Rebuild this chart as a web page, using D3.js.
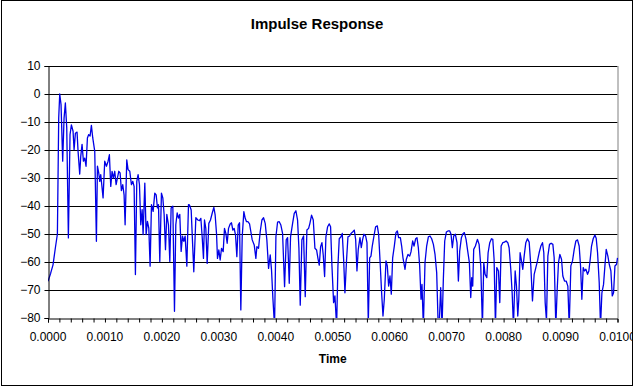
<!DOCTYPE html>
<html><head><meta charset="utf-8">
<script src="https://cdn.jsdelivr.net/npm/d3@7"></script>
<style>
html,body{margin:0;padding:0;background:#fff;}
svg{display:block;font-family:"Liberation Sans",Arial,sans-serif;}
</style></head>
<body><svg id="c" width="635" height="388"></svg>
<script>
// Time in milliseconds (converted to seconds below), response in dB
const timeMs = [
0.000,0.047,0.088,0.129,0.165,0.188,0.206,0.229,0.258,0.282,0.305,0.329,0.358,0.387,0.411,0.440,0.458,0.481,0.510,0.528,
0.557,0.575,0.598,0.622,0.645,0.668,0.692,0.715,0.739,0.762,0.786,0.821,0.850,0.868,0.891,0.909,0.926,0.944,0.967,0.996,
1.026,1.055,1.078,1.102,1.125,1.149,1.172,1.196,1.219,1.243,1.266,1.289,1.313,1.336,1.354,1.383,1.406,1.436,1.465,1.489,
1.512,1.535,1.559,1.582,1.606,1.629,1.653,1.670,1.700,1.723,1.746,1.770,1.793,1.817,1.846,1.875,1.899,1.922,1.940,1.963,
1.992,2.016,2.039,2.063,2.086,2.115,2.139,2.162,2.192,2.221,2.244,2.268,2.291,2.314,2.338,2.361,2.385,2.408,2.438,2.467,
2.484,2.514,2.560,2.596,2.631,2.660,2.684,2.707,2.730,2.748,2.771,2.795,2.824,2.853,2.883,2.912,2.935,2.959,2.976,3.000,
3.023,3.047,3.076,3.099,3.123,3.146,3.170,3.199,3.222,3.246,3.269,3.293,3.316,3.340,3.363,3.386,3.410,3.439,3.463,3.486,
3.510,3.539,3.562,3.586,3.621,3.650,3.668,3.697,3.726,3.756,3.785,3.814,3.843,3.873,3.902,3.925,3.949,3.978,4.002,4.031,
4.060,4.089,4.119,4.154,4.183,4.207,4.236,4.259,4.295,4.324,4.353,4.382,4.406,4.429,4.458,4.488,4.517,4.546,4.576,4.599,
4.628,4.658,4.687,4.716,4.740,4.763,4.787,4.810,4.833,4.857,4.880,4.910,4.939,4.962,
4.986,5.015,5.038,5.068,5.091,5.114,5.144,5.167,5.191,5.214,5.243,5.267,5.296,5.320,5.349,5.378,5.402,5.425,5.448,5.478,
5.501,5.525,5.548,5.577,5.601,5.624,5.648,5.671,5.694,5.724,5.753,5.782,5.806,5.835,5.858,5.882,5.905,5.935,5.958,5.981,
6.005,6.028,6.052,6.081,6.110,6.134,6.157,6.187,6.210,6.233,6.269,6.292,6.321,6.351,6.374,6.403,6.427,6.456,6.479,6.503,
6.526,6.550,6.567,6.591,6.620,6.649,6.679,6.708,6.737,6.767,6.796,6.825,6.849,6.872,6.895,6.919,6.942,6.966,6.995,7.024,
7.054,7.077,7.100,7.124,7.153,7.182,7.206,7.229,7.259,7.288,7.311,7.341,7.370,7.399,7.423,7.440,7.458,7.475,7.505,
7.540,7.570,7.599,7.628,7.652,7.675,7.705,7.728,7.757,7.787,7.810,7.833,7.857,7.880,7.910,7.933,7.957,7.986,8.015,8.044,
8.074,8.097,8.126,8.150,8.173,8.203,8.226,8.249,8.267,8.290,8.314,8.337,8.361,8.390,8.419,8.449,8.478,8.507,8.537,8.566,
8.595,8.624,8.654,8.683,8.706,8.730,8.753,8.777,8.806,8.835,8.865,8.888,8.917,8.941,8.964,8.988,9.017,9.040,9.070,9.099,
9.128,9.152,9.181,9.210,9.240,9.269,9.298,9.327,9.351,9.374,9.398,9.421,9.445,9.474,9.497,9.521,9.544,9.573,9.603,9.626,
9.650,9.679,9.702,9.726,9.755,9.779,9.802,9.831,9.855,9.884,9.908,9.931,9.955,9.984,10.000
];
const responseDb = [
-66.9,-64,-61,-55,-50,-8.6,0,-3.8,-24,-8.6,-3.2,-12,-51.4,-14.5,-11,-13.3,-19.9,-14,-13.6,-20.5,
-28.6,-22.3,-18,-24,-22.9,-25.8,-15.7,-14.5,-15,-11.2,-15.7,-20.5,-52.6,-25.8,-28.2,-31.2,-28.8,-32.4,-37.1,-24,
-25.8,-24,-21.7,-33,-27.6,-30,-27.6,-32.4,-30,-27.6,-28.2,-34.5,-32.4,-36,-46.7,-23.5,-27,-27.6,-32.4,-31.2,
-33,-64.5,-31.2,-28.8,-32.4,-46.7,-41.3,-50.2,-31.8,-50.2,-45.5,-47.9,-61.5,-39.5,-41.9,-35.4,-36,-40.7,-39.5,-59.8,
-35.4,-37.1,-43,-55.6,-43,-46.7,-59.8,-40.7,-40.1,-77.6,-46.7,-42.5,-44.3,-43,-56.2,-50.8,-52.6,-50.8,-61.5,-39.5,
-39.6,-41.4,-63.5,-44.2,-45,-45.2,-44.4,-51,-58.7,-45,-48,-60.5,-46.2,-45,-42.6,-40.5,-43.2,-49.8,-58.7,-55.7,
-59.3,-55.1,-56.3,-48,-49.8,-53.3,-48,-46.4,-46,-48.6,-48,-50.4,-58.1,-46.8,-46,-77.1,-51,-42,-44.4,-45.6,
-45.6,-46.4,-49.2,-52.1,-53.9,-58.7,-54.5,-55.1,-49.2,-45,-44.2,-46.2,-52.1,-62.3,-57.5,-62.9,-73,-83,-51,-45.8,
-45.6,-46.8,-49.8,-68.8,-52.1,-51.3,-67.6,-51,-46.2,-42.6,-41.7,-45,-55.1,-75.4,-52.1,-50.7,-72.4,-48.6,-48,-46.2,
-43.3,-45,-55.1,-55.7,-58.7,-61.1,-54.5,-53.1,-57.5,-65.2,-51,-47.4,-46.4,-47.4,
-61.4,-74.5,-72.1,-83,-61.4,-51.7,-51,-49.8,-59,-71,-59,-51,-50.7,-49.8,-49.3,-48.6,-51.9,-63.2,-55.5,-51.3,
-54.9,-51.9,-50.1,-50.7,-53.1,-82,-58.5,-57.9,-54.3,-50.7,-47.4,-47.1,-50.1,-61.4,-71,-79.3,-73.3,-59.6,-61.4,-68.6,
-65,-71.5,-58.5,-54.3,-49.5,-48.9,-51.3,-51.3,-54.3,-58.5,-62.6,-59,-57.3,-57.9,-56.4,-52.5,-54.3,-51.7,-51.3,-54.9,
-61.4,-73.3,-68,-83,-60.2,-54.3,-51,-50.7,-51.7,-53.7,-57.3,-63.8,-81,-81,-69.2,-83,-66.2,-52.5,-49.3,-48.9,
-48.9,-50.1,-54.9,-50.7,-50.1,-53.1,-66.8,-56.1,-51.3,-49.8,-49.5,-51.9,-56.1,-60.2,-72.7,-65.6,-68.6,-55.5,-54.3,
-51.9,-53.7,-61.4,-83,-60.2,-64.4,-65.6,-56.7,-53.1,-51.7,-51.9,-59,-83,-62,-63.2,-74.5,-54.3,-53.1,-52.9,-52.5,
-53.1,-54.9,-62.6,-71,-83,-63.2,-68.6,-79.3,-73.3,-56.7,-59.6,-62.6,-57.9,-53.1,-51.7,-52.9,-61.4,-73.9,-64.4,-62,
-59.6,-56.7,-54.3,-53.1,-56.7,-74.5,-81,-57.9,-53.7,-53.3,-53.7,-58.5,-83,-69.8,-60.2,-57.3,-59,-65,-66.8,-66.8,
-68.6,-83,-61.4,-59.6,-55.5,-52.5,-52.1,-54.3,-61.4,-73.3,-62,-63.2,-62.6,-64.4,-63.2,-59,-54.3,-51.7,-50.4,-51.5,
-56.7,-67.4,-83,-71,-68,-61.4,-55.5,-57.9,-60.8,-63.2,-72.1,-71,-61.4,-60.8,-58.5
];
const yTicks = [10,0,-10,-20,-30,-40,-50,-60,-70,-80];
const xLabelTicks = [0,0.001,0.002,0.003,0.004,0.005,0.006,0.007,0.008,0.009,0.010];
const chartTitle = "Impulse Response";
const xTitle = "Time";

const data = timeMs.map((t,i)=>({t:t/1000, v:responseDb[i]}));

const W=635,H=388;
const L=48, R=617.5, T=66, B=318;
const svg = d3.select("#c");
const x = d3.scaleLinear().domain([0,0.01]).range([L,R]);
const y = d3.scaleLinear().domain([-80,10]).range([B,T]);

const defs = svg.append("defs");
defs.append("clipPath").attr("id","plotclip").append("rect")
  .attr("x",L).attr("y",T-2).attr("width",R-L+1).attr("height",B-T+2);
defs.append("clipPath").attr("id","chartclip").append("rect")
  .attr("x",2).attr("y",1).attr("width",630).attr("height",384);

const root = svg.append("g").attr("clip-path","url(#chartclip)");

// Title
root.append("text").attr("x",317).attr("y",29).attr("text-anchor","middle")
  .attr("font-size","15px").attr("font-weight","bold").attr("fill","#000").text(chartTitle);

// gridlines
root.append("g").selectAll("line").data(yTicks.filter(d=>d>-80)).join("line")
  .attr("x1",L).attr("x2",R).attr("y1",d=>Math.round(y(d))+0.5).attr("y2",d=>Math.round(y(d))+0.5)
  .attr("stroke","#000").attr("stroke-width",1);

// plot right border
root.append("line").attr("x1",R+0.5).attr("x2",R+0.5).attr("y1",T).attr("y2",B)
  .attr("stroke","#808080").attr("stroke-width",1);

// line
const line = d3.line().x(d=>x(d.t)).y(d=>y(d.v));
root.append("path").datum(data).attr("clip-path","url(#plotclip)")
  .attr("d",line).attr("fill","none").attr("stroke","#0000e6").attr("stroke-width",1.3)
  .attr("stroke-linejoin","round");

// y axis
const yAxis = d3.axisLeft(y).tickValues(yTicks).tickSize(4).tickFormat(d3.format("d"));
const gy = root.append("g").attr("transform",`translate(${L+0.5},0)`).call(yAxis);
gy.select(".domain").attr("stroke","#000");
gy.selectAll(".tick line").attr("stroke","#000");
gy.selectAll(".tick text").attr("font-size","12px").attr("fill","#000").attr("font-family","Liberation Sans, Arial, sans-serif").attr("x",-8);

// x axis (minor ticks every 0.0002, labels every 0.001)
const minorTicks = d3.range(0,51).map(i=>i*0.0002);
const xAxis = d3.axisBottom(x).tickValues(minorTicks).tickSize(4).tickFormat("");
const gx = root.append("g").attr("transform",`translate(0,${B+0.5})`).call(xAxis);
gx.select(".domain").attr("stroke","#000");
gx.selectAll(".tick line").attr("stroke","#000");
root.append("g").selectAll("text").data(xLabelTicks).join("text")
  .attr("x",d=>x(d)).attr("y",341).attr("text-anchor","middle")
  .attr("font-size","12px").attr("fill","#000").text(d=>d3.format(".4f")(d));

// x title
root.append("text").attr("x",x(0.005)).attr("y",363).attr("text-anchor","middle")
  .attr("font-size","12px").attr("font-weight","bold").attr("fill","#000").text(xTitle);

// chart border
svg.append("rect").attr("x",1.5).attr("y",0.5).attr("width",631).attr("height",385)
  .attr("fill","none").attr("stroke","#000").attr("stroke-width",1);
</script></body></html>
